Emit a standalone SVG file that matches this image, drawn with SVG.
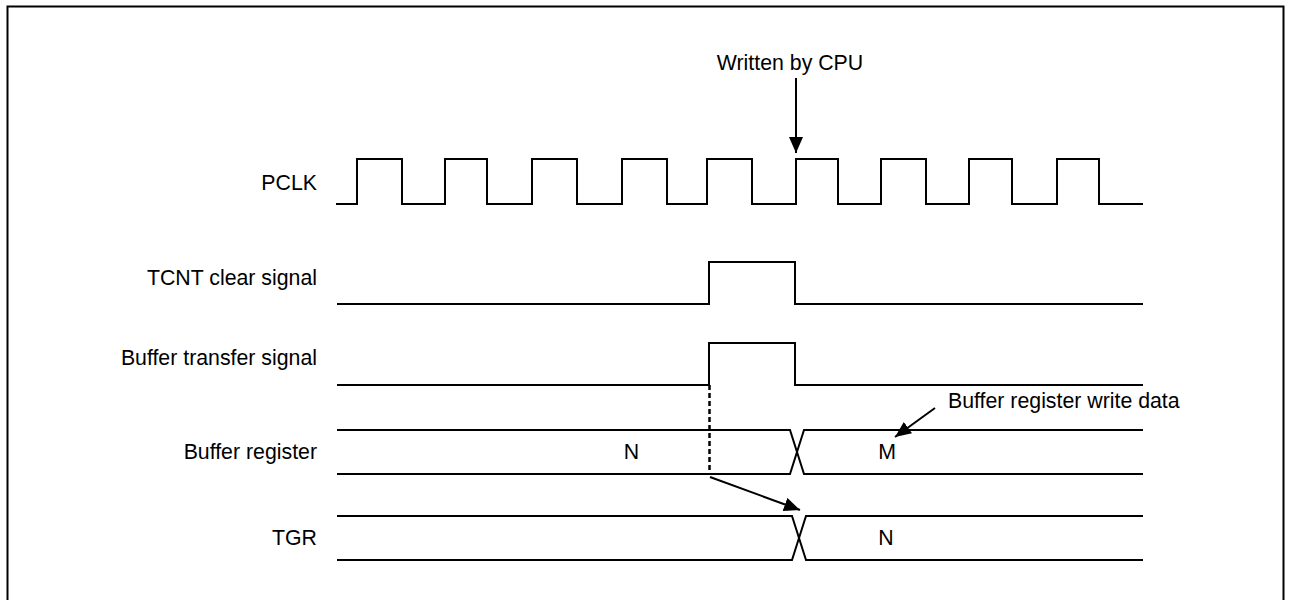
<svg xmlns="http://www.w3.org/2000/svg" width="1290" height="600" viewBox="0 0 1290 600">
<style>
.sig{fill:none;stroke:#000;stroke-width:2;stroke-linejoin:miter}
.lbl{font-family:"Liberation Sans",Arial,sans-serif;font-size:21.3px;fill:#000}
.r{text-anchor:end}
.c{text-anchor:middle}
.arr{fill:none;stroke:#000;stroke-width:2}
</style>
<defs>
<marker id="ah" markerWidth="16" markerHeight="14" refX="16" refY="7" orient="auto" markerUnits="userSpaceOnUse">
<path d="M0,0 L16,7 L0,14 Z" fill="#000"/>
</marker>
</defs>
<rect x="7.5" y="6.5" width="1276" height="620" fill="none" stroke="#000" stroke-width="2"/>
<g id="pclk">
<text class="lbl r" x="317" y="190">PCLK</text>
<path class="sig" d="M336,204 H357 V159 H402 V204 H445 V159 H487 V204 H532 V159 H577 V204 H622 V159 H667 V204 H707 V159 H752 V204 H796 V159 H838 V204 H881 V159 H926 V204 H969 V159 H1012 V204 H1057 V159 H1099 V204 H1143"/>
</g>
<g id="tcnt">
<text class="lbl r" x="317" y="285">TCNT clear signal</text>
<path class="sig" d="M337,304 H709 V262 H795 V304 H1143"/>
</g>
<g id="buftransfer">
<text class="lbl r" x="317" y="365">Buffer transfer signal</text>
<path class="sig" d="M337,385 H709 V343 H795 V385 H1143"/>
</g>
<g id="bufreg">
<text class="lbl r" x="317" y="459">Buffer register</text>
<path class="sig" d="M337,430 H790 L804,474 H1143 M337,474 H790 L804,430 H1143"/>
<text class="lbl c" x="631.5" y="459">N</text>
<text class="lbl c" x="887" y="459">M</text>
</g>
<g id="tgr">
<text class="lbl r" x="317" y="545">TGR</text>
<path class="sig" d="M337,516 H792 L806,560 H1143 M337,560 H792 L806,516 H1143"/>
<text class="lbl c" x="886" y="545">N</text>
</g>
<g id="annot-cpu">
<text class="lbl c" x="790" y="70">Written by CPU</text>
</g>
<g id="annot-write">
<text class="lbl" x="948" y="408">Buffer register write data</text>
</g>
<g id="connectors">
<line class="arr" x1="796" y1="78" x2="796" y2="153" marker-end="url(#ah)"/>
<line class="arr" x1="935" y1="408" x2="895" y2="437" marker-end="url(#ah)"/>
<line x1="709.5" y1="385" x2="709.5" y2="475" stroke="#000" stroke-width="2.5" stroke-dasharray="5,3"/>
<line class="arr" x1="710" y1="477" x2="800" y2="510" marker-end="url(#ah)"/>
</g>
</svg>
